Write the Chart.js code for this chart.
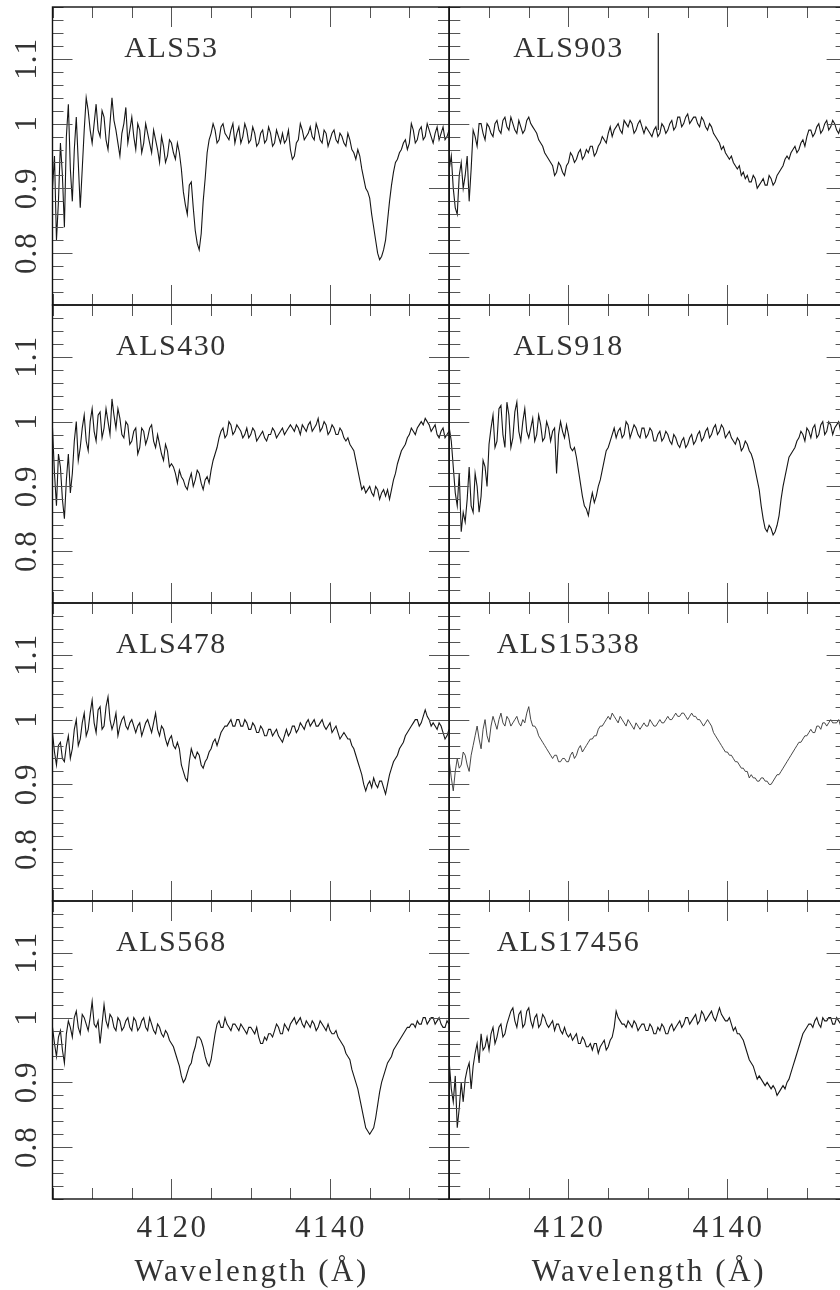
<!DOCTYPE html>
<html>
<head>
<meta charset="utf-8">
<script src="https://cdn.jsdelivr.net/npm/chart.js@4.4.0/dist/chart.umd.min.js"></script>
<style>
html, body { margin: 0; padding: 0; background: #fff; overflow: hidden; }
#wrap { position: relative; width: 840px; height: 1290px; overflow: hidden; }
#wrap canvas { position: absolute; }
</style>
</head>
<body>
<div id="wrap"></div>
<script>
// wavelength grid (Angstrom): whole/half steps and the quarter steps between them
var wave = [4105,4105.5,4106,4106.5,4107,4107.5,4108,4108.5,4109,4109.5,
  4110,4110.5,4111,4111.5,4112,4112.5,4113,4113.5,4114,4114.5,
  4115,4115.5,4116,4116.5,4117,4117.5,4118,4118.5,4119,4119.5,
  4120,4120.5,4121,4121.5,4122,4122.5,4123,4123.5,4124,4124.5,
  4125,4125.5,4126,4126.5,4127,4127.5,4128,4128.5,4129,4129.5,
  4130,4130.5,4131,4131.5,4132,4132.5,4133,4133.5,4134,4134.5,
  4135,4135.5,4136,4136.5,4137,4137.5,4138,4138.5,4139,4139.5,
  4140,4140.5,4141,4141.5,4142,4142.5,4143,4143.5,4144,4144.5,
  4145,4145.5,4146,4146.5,4147,4147.5,4148,4148.5,4149,4149.5,
  4150,4150.5,4151,4151.5,4152,4152.5,4153,4153.5,4154,4154.5,4155];
var waveMid = [4105.25,4105.75,4106.25,4106.75,4107.25,4107.75,4108.25,4108.75,4109.25,4109.75,
  4110.25,4110.75,4111.25,4111.75,4112.25,4112.75,4113.25,4113.75,4114.25,4114.75,
  4115.25,4115.75,4116.25,4116.75,4117.25,4117.75,4118.25,4118.75,4119.25,4119.75,
  4120.25,4120.75,4121.25,4121.75,4122.25,4122.75,4123.25,4123.75,4124.25,4124.75,
  4125.25,4125.75,4126.25,4126.75,4127.25,4127.75,4128.25,4128.75,4129.25,4129.75,
  4130.25,4130.75,4131.25,4131.75,4132.25,4132.75,4133.25,4133.75,4134.25,4134.75,
  4135.25,4135.75,4136.25,4136.75,4137.25,4137.75,4138.25,4138.75,4139.25,4139.75,
  4140.25,4140.75,4141.25,4141.75,4142.25,4142.75,4143.25,4143.75,4144.25,4144.75,
  4145.25,4145.75,4146.25,4146.75,4147.25,4147.75,4148.25,4148.75,4149.25,4149.75,
  4150.25,4150.75,4151.25,4151.75,4152.25,4152.75,4153.25,4153.75,4154.25,4154.75];

// normalised flux
var als53 = [.90,.82,.97,.84,1.03,.88,1.01,.87,.99,1.02,
  .97,1.03,.98,1.01,.96,1.04,.99,.95,1.00,.97,
  1.01,.96,.99,.97,.985,.955,.975,.94,.965,.95,
  .97,.945,.955,.895,.86,.91,.835,.805,.88,.955,
  .985,.99,.975,1.0,.98,.99,.97,.995,.98,.99,
  .975,.985,.97,.99,.975,.985,.97,.98,.985,.975,
  .96,.95,.975,.99,.98,.995,.975,.99,.97,.985,
  .975,.99,.97,.98,.965,.975,.955,.96,.93,.90,
  .885,.84,.80,.795,.82,.88,.925,.945,.96,.975,
  .97,.99,.975,.995,.98,.99,.97,.995,.985,.975,.99];
var als53Mid = [.95,.88,.92,.98,.93,.96,.94,.93,1.04,.99,
  1.0,.99,1.02,.975,1.0,1.005,.97,.985,1.025,.99,
  .98,1.0,.955,1.0,.97,.99,.96,.98,.94,.975,
  .955,.97,.93,.875,.905,.87,.815,.83,.915,.975,
  1.0,.97,.995,.985,.975,1.0,.985,.97,1.0,.97,
  .995,.965,.985,.97,.995,.965,.99,.97,.97,.99,
  .945,.97,1.0,.975,.985,.98,1.0,.975,.99,.965,
  .985,.975,.985,.97,.985,.96,.945,.95,.915,.895,
  .86,.82,.79,.805,.85,.905,.94,.955,.97,.96,
  1.0,.97,.99,.975,1.0,.98,.985,.975,.995,.98];

var als903 = [.93,.90,.86,.94,.92,.88,.99,.965,1.0,.975,
  .995,.98,1.005,.985,1.01,.99,1.0,.985,.995,.99,
  1.01,.995,.985,.97,.955,.945,.935,.925,.935,.92,
  .94,.95,.945,.96,.95,.955,.965,.955,.97,.975,
  .985,.98,.995,.99,1.005,.995,1.0,.99,1.005,.985,
  .99,.98,.995,.985,.995,.99,1.005,.995,1.01,1.0,
  1.015,1.005,1.01,.995,1.005,.99,.995,.98,.97,.965,
  .95,.95,.935,.935,.925,.92,.91,.915,.905,.915,
  .905,.915,.91,.925,.935,.95,.955,.965,.96,.975,
  .98,.99,.985,1.0,.99,1.005,.995,1.0,.985,1.0,.995];
var als903Mid = [.95,.87,.92,.90,.95,.93,.98,1.0,.985,1.0,
  .985,1.0,.99,1.005,.995,1.01,.99,1.005,.985,1.005,
  1.0,.99,.975,.965,.95,.94,.92,.94,.925,.935,
  .955,.94,.955,.945,.96,.965,.95,.965,.98,.97,
  .995,.99,1.0,.985,1.0,1.005,.985,1.0,.995,.995,
  .985,.99,.98,1.0,.985,1.0,.99,1.01,.995,1.01,
  1.0,1.01,1.0,1.01,.995,1.0,.985,.975,.96,.955,
  .945,.94,.93,.92,.915,.91,.92,.90,.91,.905,
  .92,.905,.92,.93,.945,.945,.96,.955,.97,.965,
  .99,.98,.995,.985,1.0,.99,1.005,.99,.995,.99];
// single-pixel spike in the ALS903 spectrum
var spike903 = [[4131.3, 0.99], [4131.3, 1.14]];

var als430 = [.99,.87,.93,.85,.95,.92,1.0,.96,1.01,.955,
  1.02,.97,1.015,.99,1.0,1.035,.99,1.005,.975,.995,
  .97,.99,.96,.985,.975,.995,.96,.965,.94,.955,
  .935,.92,.925,.91,.895,.92,.91,.92,.895,.915,
  .925,.95,.975,.99,.98,.995,.985,.99,.975,.99,
  .98,.985,.975,.985,.97,.98,.985,.98,.99,.985,
  .995,.985,.99,.995,.985,1.0,.99,1.005,.99,.995,
  .985,.99,.98,.985,.97,.965,.955,.925,.895,.89,
  .90,.885,.895,.89,.885,.88,.91,.935,.955,.965,
  .98,.985,.99,1.0,1.005,.995,.99,.98,.985,.975,.985];
var als430Mid = [.92,.95,.88,.91,.89,.97,.94,.99,.97,1.0,
  .985,1.01,.975,1.02,.98,1.01,1.02,.98,1.0,.965,
  .985,.95,.99,.965,.99,.97,.98,.95,.965,.93,
  .93,.905,.915,.90,.91,.90,.925,.905,.91,.905,
  .94,.96,.985,.975,1.0,.98,.995,.985,.98,.975,
  .99,.97,.98,.975,.98,.99,.975,.985,.98,.99,
  .99,.995,.98,.99,.995,.985,.995,.985,1.0,.98,
  .995,.98,.99,.975,.975,.96,.94,.91,.90,.895,
  .89,.90,.88,.895,.895,.895,.92,.945,.96,.975,
  .99,.98,.995,.995,1.0,.985,.995,.975,.99,.98];

var als918 = [.99,.93,.87,.83,.845,.93,.86,.90,.885,.93,
  .965,1.01,.97,1.025,.96,1.01,.975,1.03,.97,1.02,
  .975,1.005,.98,.995,.975,.99,.985,.92,1.0,.975,
  .98,.955,.945,.905,.87,.855,.89,.885,.91,.94,
  .96,.98,.975,.99,.98,.995,.985,.99,.975,.99,
  .98,.985,.97,.985,.975,.98,.965,.975,.96,.975,
  .965,.98,.97,.985,.975,.99,.98,.995,.985,.99,
  .98,.975,.965,.97,.96,.965,.95,.925,.895,.85,
  .83,.835,.83,.855,.90,.93,.95,.96,.975,.98,
  .99,.975,.995,.98,1.0,.985,.995,.99,1.0,.975,.97];
var als918Mid = [.97,.89,.92,.86,.88,.87,.92,.86,.94,.90,
  .99,.96,1.02,.98,1.03,.96,1.015,.985,1.0,.985,
  .99,.97,1.01,.97,1.0,.97,.99,.98,.985,.995,
  .96,.96,.925,.885,.865,.875,.875,.90,.925,.955,
  .97,.99,.985,.975,1.0,.975,.995,.98,.99,.975,
  .99,.97,.98,.97,.985,.97,.98,.965,.97,.96,
  .975,.965,.98,.97,.985,.975,.99,.98,.995,.975,
  .985,.97,.975,.955,.97,.955,.94,.91,.87,.835,
  .84,.825,.84,.88,.915,.945,.955,.97,.985,.97,
  .985,.99,.975,.995,.98,1.0,.98,.995,.985,.99];

var als478 = [.98,.93,.965,.935,.975,.955,1.0,.97,1.01,.985,
  1.03,.98,1.02,.99,1.035,.985,1.01,.99,1.005,.985,
  1.0,.98,.995,.985,1.0,.98,1.01,.975,.985,.96,
  .975,.955,.955,.92,.905,.955,.94,.945,.925,.94,
  .955,.97,.97,.985,.99,1.0,.99,1.0,.99,.995,
  .985,.99,.98,.985,.975,.985,.98,.975,.965,.985,
  .98,.99,.985,.99,.995,.99,1.0,.99,1.0,.985,
  .995,.985,.98,.975,.975,.97,.955,.935,.915,.89,
  .905,.91,.895,.905,.885,.915,.935,.945,.96,.975,
  .985,.995,1.0,.995,1.015,1.0,.995,.985,.99,.97,.985];
var als478Mid = [.95,.96,.94,.96,.94,.985,.96,.995,.975,1.01,
  .995,1.015,.985,1.02,1.0,.995,.975,1.0,.99,.995,
  .99,.99,.975,.995,.99,.995,.985,.99,.97,.97,
  .96,.965,.93,.91,.935,.945,.95,.93,.935,.95,
  .965,.96,.98,.99,.995,.99,1.0,.99,1.0,.985,
  .995,.98,.99,.975,.985,.975,.985,.97,.975,.975,
  .99,.98,.995,.985,1.0,.995,.99,.995,.99,.99,
  .98,.99,.97,.98,.97,.96,.945,.925,.90,.90,
  .895,.90,.905,.895,.90,.925,.94,.955,.965,.98,
  .99,1.0,.99,1.005,1.005,.99,.99,.995,.98,.975];

var als15338 = [.935,.89,.94,.93,.945,.92,.96,.99,.955,1.0,
  .965,1.005,.985,1.01,.99,1.0,.995,1.005,.99,.995,
  1.02,.99,.985,.97,.96,.95,.94,.945,.935,.94,
  .935,.95,.945,.96,.955,.965,.97,.975,.99,.995,
  1.005,1.01,1.0,1.005,.995,1.0,.99,.995,.985,.995,
  .99,.995,.99,1.0,.995,1.005,1.0,1.01,1.005,1.01,
  1.0,1.01,1.005,1.0,.99,1.0,.99,.975,.965,.955,
  .95,.945,.935,.93,.925,.92,.915,.91,.905,.91,
  .905,.90,.91,.915,.925,.935,.945,.955,.965,.97,
  .975,.985,.98,.99,.995,.99,1.0,.995,1.0,.985,.99];
var als15338Mid = [.91,.92,.925,.95,.93,.945,.975,.97,.985,.975,
  .99,.995,1.0,.995,1.005,.99,1.0,.995,1.0,1.01,
  1.0,.99,.975,.965,.955,.945,.945,.935,.94,.935,
  .945,.94,.955,.95,.96,.97,.975,.985,.99,1.0,
  1.0,1.005,.995,1.0,.99,.995,.985,.99,.99,.99,
  1.0,.99,.995,.995,1.0,1.0,1.005,1.005,1.01,1.005,
  1.005,1.005,1.0,.995,.995,.995,.98,.97,.96,.95,
  .945,.94,.935,.925,.92,.91,.91,.905,.91,.905,
  .90,.905,.915,.92,.93,.94,.95,.96,.965,.975,
  .98,.98,.99,.985,.995,.995,.995,.995,.99,.99];

var als568 = [.985,.94,.98,.93,.995,.97,1.01,.975,1.0,.98,
  1.025,.985,.96,1.02,.985,1.0,.98,.995,.985,1.0,
  .98,.995,.985,1.0,.98,.99,.975,.985,.97,.975,
  .96,.945,.925,.90,.915,.93,.955,.97,.955,.93,
  .935,.975,.995,.985,.99,.98,.99,.98,.985,.975,
  .985,.975,.97,.96,.965,.975,.98,.985,.975,.985,
  .99,1.0,.995,.99,.995,.985,.99,.985,.99,.98,
  .98,.975,.97,.96,.945,.935,.91,.89,.86,.83,
  .82,.83,.865,.90,.92,.935,.95,.96,.97,.98,
  .985,.99,.995,.99,1.0,.995,1.0,.995,.99,.985,.99];
var als568Mid = [.96,.97,.95,.975,.985,1.0,.985,1.005,.99,1.0,
  .99,.995,.99,.995,1.005,.985,1.0,.98,.995,.985,
  1.0,.98,.995,.985,1.0,.98,.99,.975,.98,.965,
  .955,.935,.91,.905,.925,.945,.97,.965,.94,.925,
  .955,.99,.985,1.0,.985,.99,.985,.99,.98,.985,
  .98,.985,.96,.97,.975,.97,.99,.975,.99,.98,
  .995,.99,1.0,.985,.99,.995,.98,.995,.985,.99,
  .975,.98,.965,.955,.94,.92,.90,.875,.845,.825,
  .825,.845,.885,.91,.93,.94,.955,.965,.975,.985,
  .99,.985,.99,1.0,.99,1.0,.99,1.0,.985,.995];

var als17456 = [.93,.87,.83,.90,.905,.93,.925,.96,.975,.955,
  .95,.985,.97,.99,.975,1.0,1.015,.985,1.01,.99,
  1.015,.985,1.005,.99,1.0,.985,.995,.99,.98,.985,
  .97,.965,.975,.96,.965,.955,.95,.96,.955,.965,
  .955,.97,1.01,.995,.99,.995,.985,.99,.985,.99,
  .98,.985,.975,.98,.985,.975,.99,.985,.995,.99,
  1.0,.995,1.005,.995,1.005,1.0,1.01,.995,1.015,1.0,
  .995,.99,.985,.975,.965,.945,.93,.915,.91,.90,
  .90,.89,.89,.885,.895,.90,.915,.935,.955,.975,
  .985,.99,.995,.99,1.0,.995,1.0,.99,.995,.985,.99];
var als17456Mid = [.89,.91,.86,.87,.92,.89,.945,.93,.95,.97,
  .975,.96,.985,.97,.99,1.01,.995,1.005,.985,1.01,
  .995,1.0,.985,1.005,.99,.99,.98,.99,.975,.975,
  .975,.97,.96,.97,.955,.96,.96,.945,.96,.95,
  .965,.985,1.0,.99,.985,.99,.995,.98,.99,.98,
  .99,.975,.985,.99,.975,.985,.98,.99,.985,1.0,
  .99,1.0,.99,1.01,.995,1.005,1.0,1.005,1.005,.995,
  1.0,.98,.975,.97,.955,.935,.925,.905,.905,.895,
  .895,.895,.88,.89,.89,.905,.925,.945,.965,.98,
  .99,.985,1.0,.985,.995,1.0,.99,1.0,.99,.995];

var starNames = ['ALS53', 'ALS903', 'ALS430', 'ALS918', 'ALS478', 'ALS15338', 'ALS568', 'ALS17456'];
var starFlux = [als53, als903, als430, als918, als478, als15338, als568, als17456];
var starFluxMid = [als53Mid, als903Mid, als430Mid, als918Mid, als478Mid, als15338Mid, als568Mid, als17456Mid];

var xTicks = [4120, 4140];
var xTickLabels = ['4120', '4140'];
var yTicks = [0.8, 0.9, 1, 1.1];
var yTickLabels = ['0.8', '0.9', '1', '1.1'];
var xTitle = 'Wavelength (\u00C5)';
var xMin = 4105, xMax = 4155, yMin = 0.72, yMax = 1.18;

// panel geometry (page pixels)
var colLeft = [52.5, 449.3];
var colWidth = [396.5, 397.3];
var canvasLeft = [0, 400];
var rowTop = [7, 305, 603, 901];
var rowHeight = 298;
var canvasW = 470, canvasH = 405;

var serif = '"Liberation Serif", "DejaVu Serif", serif';

var pgFrame = {
    id: 'pgFrame',
    afterDraw: function (chart) {
        var o = chart.options.plugins.pgFrame;
        var ctx = chart.ctx;
        var a = chart.chartArea;
        var xs = chart.scales.x, ys = chart.scales.y;
        ctx.save();

        // inward ticks on all four sides
        ctx.strokeStyle = '#555';
        ctx.lineWidth = 1;
        ctx.beginPath();
        for (var k = 0; k <= 10; k++) {
            var w = xMin + k * 5;
            var px = Math.round(xs.getPixelForValue(w)) + 0.5;
            var len = xTicks.indexOf(w) >= 0 ? 20 : 11;
            ctx.moveTo(px, a.bottom); ctx.lineTo(px, a.bottom - len);
            ctx.moveTo(px, a.top); ctx.lineTo(px, a.top + len);
        }
        for (var j = 0; j <= 23; j++) {
            var v = yMin + j * 0.02;
            var py = Math.round(ys.getPixelForValue(v)) + 0.5;
            var major = Math.abs(v * 10 - Math.round(v * 10)) < 1e-6;
            var ylen = major ? 20 : 11;
            ctx.moveTo(a.left, py); ctx.lineTo(a.left + ylen, py);
            ctx.moveTo(a.right, py); ctx.lineTo(a.right - ylen, py);
        }
        ctx.stroke();

        // box
        ctx.strokeStyle = '#111';
        ctx.lineWidth = 1.4;
        ctx.strokeRect(a.left, a.top, a.right - a.left, a.bottom - a.top);

        ctx.fillStyle = '#333';
        ctx.textAlign = 'center';
        ctx.textBaseline = 'alphabetic';

        // star name
        ctx.font = '30px ' + serif;
        ctx.letterSpacing = '1.5px';
        ctx.fillText(o.name, xs.getPixelForValue(4120), a.top + 50);

        // y tick labels, rotated
        if (o.showY) {
            ctx.font = '31px ' + serif;
            ctx.letterSpacing = '1px';
            for (var t = 0; t < yTicks.length; t++) {
                ctx.save();
                ctx.translate(a.left - 16.5, ys.getPixelForValue(yTicks[t]));
                ctx.rotate(-Math.PI / 2);
                ctx.fillText(yTickLabels[t], 0, 0);
                ctx.restore();
            }
        }

        // x tick labels and axis title
        if (o.showX) {
            ctx.font = '31px ' + serif;
            ctx.letterSpacing = '2.5px';
            for (var s = 0; s < xTicks.length; s++) {
                ctx.fillText(xTickLabels[s], xs.getPixelForValue(xTicks[s]) + 1, a.bottom + 38);
            }
            ctx.letterSpacing = '2.6px';
            ctx.fillText(xTitle, (a.left + a.right) / 2 + 1, a.bottom + 82);
        }
        ctx.restore();
    }
};

// interleave the half-step samples with the quarter-step ones
function pairs(flux, fluxMid) {
    var out = [];
    for (var i = 0; i < wave.length; i++) {
        out.push({ x: wave[i], y: flux[i] });
        if (i < waveMid.length) out.push({ x: waveMid[i], y: fluxMid[i] });
    }
    return out;
}

var wrap = document.getElementById('wrap');

starNames.forEach(function (name, idx) {
    var col = idx % 2;
    var row = Math.floor(idx / 2);
    var cv = document.createElement('canvas');
    cv.width = canvasW;
    cv.height = canvasH;
    cv.style.width = canvasW + 'px';
    cv.style.height = canvasH + 'px';
    cv.style.left = canvasLeft[col] + 'px';
    cv.style.top = (rowTop[row] - 7) + 'px';
    wrap.appendChild(cv);

    var padLeft = colLeft[col] - canvasLeft[col];
    var padRight = canvasW - padLeft - colWidth[col];
    var thin = name === 'ALS15338';

    var datasets = [{
        data: pairs(starFlux[idx], starFluxMid[idx]),
        borderColor: thin ? '#333' : '#161616',
        borderWidth: thin ? 0.9 : 1.1,
        pointRadius: 0,
        tension: 0
    }];
    if (name === 'ALS903') {
        datasets.push({
            data: spike903.map(function (p) { return { x: p[0], y: p[1] }; }),
            borderColor: '#161616',
            borderWidth: 1.2,
            pointRadius: 0
        });
    }

    new Chart(cv, {
        type: 'line',
        data: { datasets: datasets },
        options: {
            responsive: false,
            animation: false,
            events: [],
            devicePixelRatio: 1,
            layout: { padding: { left: padLeft, right: padRight, top: 7, bottom: canvasH - 7 - rowHeight } },
            plugins: {
                legend: { display: false },
                tooltip: { enabled: false },
                pgFrame: { name: name, showY: col === 0, showX: row === 3 }
            },
            scales: {
                x: { type: 'linear', min: xMin, max: xMax, display: false },
                y: { type: 'linear', min: yMin, max: yMax, display: false }
            }
        },
        plugins: [pgFrame]
    });
});
</script>
</body>
</html>
